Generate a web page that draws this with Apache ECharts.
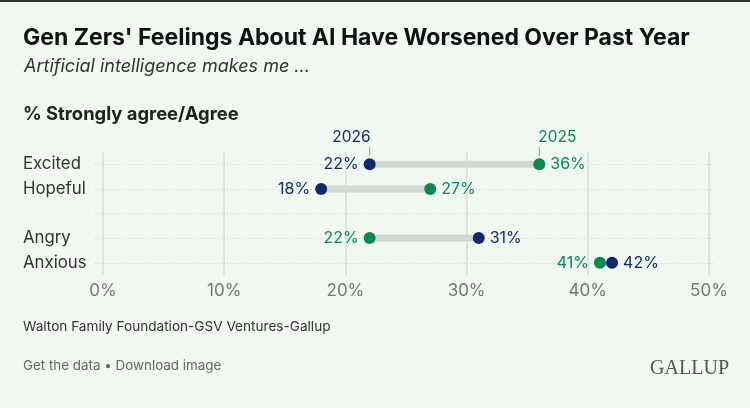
<!DOCTYPE html>
<html>
    <head>
        <meta charset="UTF-8">
        <title>Gen Zers' Feelings About AI</title>
        <script src="https://cdn.jsdelivr.net/npm/echarts@6.0.0/dist/echarts.min.js"></script>
        <style>
            html, body {
                margin: 0;
                padding: 0;
                background: #f1f7f1;
            }
            #chart {
                width: 750px;
                height: 408px;
                border-top: 2px solid #333;
                box-sizing: border-box;
            }
        </style>
    </head>
    <body>
        <div id="chart"></div>
        <script>
            // values
            const categories = [ 'Excited', 'Hopeful', '', 'Angry', 'Anxious' ];
            const values2026 = [ 22, 18, null, 31, 42 ];
            const values2025 = [ 36, 27, null, 22, 41 ];
            const xTicks = [ 0, 10, 20, 30, 40, 50 ];

            const navy = '#0f2b6b';
            const green = '#068a4e';
            const font = 'Inter, sans-serif';

            // gray connector = transparent base + span between the two years
            const spanBase = categories.map( (c, i) => values2026[ i ] == null ? null : Math.min( values2026[ i ], values2025[ i ] ) );
            const spanSize = categories.map( (c, i) => values2026[ i ] == null ? null : Math.abs( values2026[ i ] - values2025[ i ] ) );

            function dots(values, other, color) {
                return values.map( (v, i) => {
                    if ( v == null ) {
                        return null;
                    }
                    return {
                        value: [ v, categories[ i ] ],
                        label: { position: v <= other[ i ] ? 'left' : 'right', color: color }
                    };
                });
            }

            function yearMark(x, text, color, align) {
                return {
                    coord: [ x, categories[ 0 ] ],
                    symbol: 'rect',
                    symbolSize: [ 1, 9 ],
                    symbolOffset: [ 0, -13 ],
                    itemStyle: { color: '#9a9a9a' },
                    label: {
                        show: true,
                        position: 'top',
                        distance: 1,
                        formatter: text,
                        color: color,
                        align: align,
                        offset: [ align === 'right' ? 1 : -1, 0 ],
                        fontSize: 15.5,
                        fontFamily: font
                    }
                };
            }

            const chart = echarts.init( document.getElementById('chart') );

            chart.setOption({
                backgroundColor: '#f1f7f1',
                animation: false,
                title: [
                    {
                        text: "Gen Zers' Feelings About AI Have Worsened Over Past Year",
                        left: 18, top: 20,
                        textStyle: { fontFamily: font, fontSize: 23, fontWeight: 'bold', color: '#111' }
                    },
                    {
                        text: 'Artificial intelligence makes me ...',
                        left: 19, top: 51,
                        textStyle: { fontFamily: font, fontSize: 18, fontStyle: 'italic', fontWeight: 'normal', color: '#333' }
                    },
                    {
                        text: '% Strongly agree/Agree',
                        left: 18, top: 98,
                        textStyle: { fontFamily: font, fontSize: 18.4, fontWeight: 'bold', color: '#222' }
                    },
                    {
                        text: 'Walton Family Foundation-GSV Ventures-Gallup',
                        left: 18, top: 313,
                        textStyle: { fontFamily: font, fontSize: 13.6, fontWeight: 'normal', color: '#333' }
                    },
                    {
                        text: 'Get the data \u2022 Download image',
                        left: 18, top: 352,
                        textStyle: { fontFamily: font, fontSize: 13.4, fontWeight: 'normal', color: '#666' }
                    },
                    {
                        text: 'GALLUP',
                        right: 16, top: 352,
                        textStyle: { fontFamily: '"Liberation Serif", serif', fontSize: 20, fontWeight: 'normal', color: '#555' }
                    }
                ],
                grid: [
                    { left: 103, right: 41, top: 150, bottom: 133 },
                    { left: 95, right: 34, top: 162, bottom: 145 }
                ],
                xAxis: [
                    {
                        gridIndex: 0,
                        type: 'value',
                        min: 0, max: 50, interval: 10,
                        axisLine: { show: false },
                        axisTick: { show: false },
                        splitLine: { lineStyle: { color: '#dde3dd', width: 2 } },
                        axisLabel: {
                            margin: 7,
                            color: '#777',
                            fontSize: 17,
                            fontFamily: font,
                            customValues: xTicks,
                            formatter: v => v + '%'
                        }
                    },
                    {
                        gridIndex: 1,
                        type: 'value',
                        min: -0.66, max: 50.58,
                        show: false,
                        splitLine: { show: false }
                    }
                ],
                yAxis: [
                    {
                        gridIndex: 0,
                        type: 'category',
                        data: categories,
                        inverse: true,
                        axisLine: { show: false },
                        axisTick: { show: false },
                        splitLine: { show: false },
                        axisLabel: {
                            align: 'left',
                            margin: 80,
                            color: '#333',
                            fontSize: 16.8,
                            fontFamily: font
                        }
                    },
                    {
                        gridIndex: 1,
                        type: 'category',
                        data: categories,
                        inverse: true,
                        boundaryGap: false,
                        axisLine: { show: false },
                        axisTick: { show: false },
                        axisLabel: { show: false },
                        splitLine: { show: true, lineStyle: { color: '#cfd6cf', type: [ 1, 2 ], width: 1 } }
                    }
                ],
                series: [
                    {
                        type: 'bar',
                        stack: 'span',
                        data: spanBase,
                        barWidth: 7,
                        itemStyle: { color: 'transparent' },
                        silent: true
                    },
                    {
                        type: 'bar',
                        stack: 'span',
                        data: spanSize,
                        barWidth: 7,
                        itemStyle: { color: '#d4d8d4' },
                        silent: true
                    },
                    {
                        name: '2025',
                        type: 'scatter',
                        symbolSize: 12,
                        z: 5,
                        itemStyle: { color: green, opacity: 1 },
                        data: dots( values2025, values2026, green ),
                        label: {
                            show: true,
                            distance: 5,
                            fontSize: 16,
                            fontFamily: font,
                            formatter: p => p.value[ 0 ] + '%'
                        },
                        markPoint: { data: [ yearMark( values2025[ 0 ], '2025', green, 'left' ) ] }
                    },
                    {
                        name: '2026',
                        type: 'scatter',
                        symbolSize: 12,
                        z: 6,
                        itemStyle: { color: navy, opacity: 1 },
                        data: dots( values2026, values2025, navy ),
                        label: {
                            show: true,
                            distance: 5,
                            fontSize: 16,
                            fontFamily: font,
                            formatter: p => p.value[ 0 ] + '%'
                        },
                        markPoint: { data: [ yearMark( values2026[ 0 ], '2026', navy, 'right' ) ] }
                    }
                ]
            });
        </script>
    </body>
</html>
